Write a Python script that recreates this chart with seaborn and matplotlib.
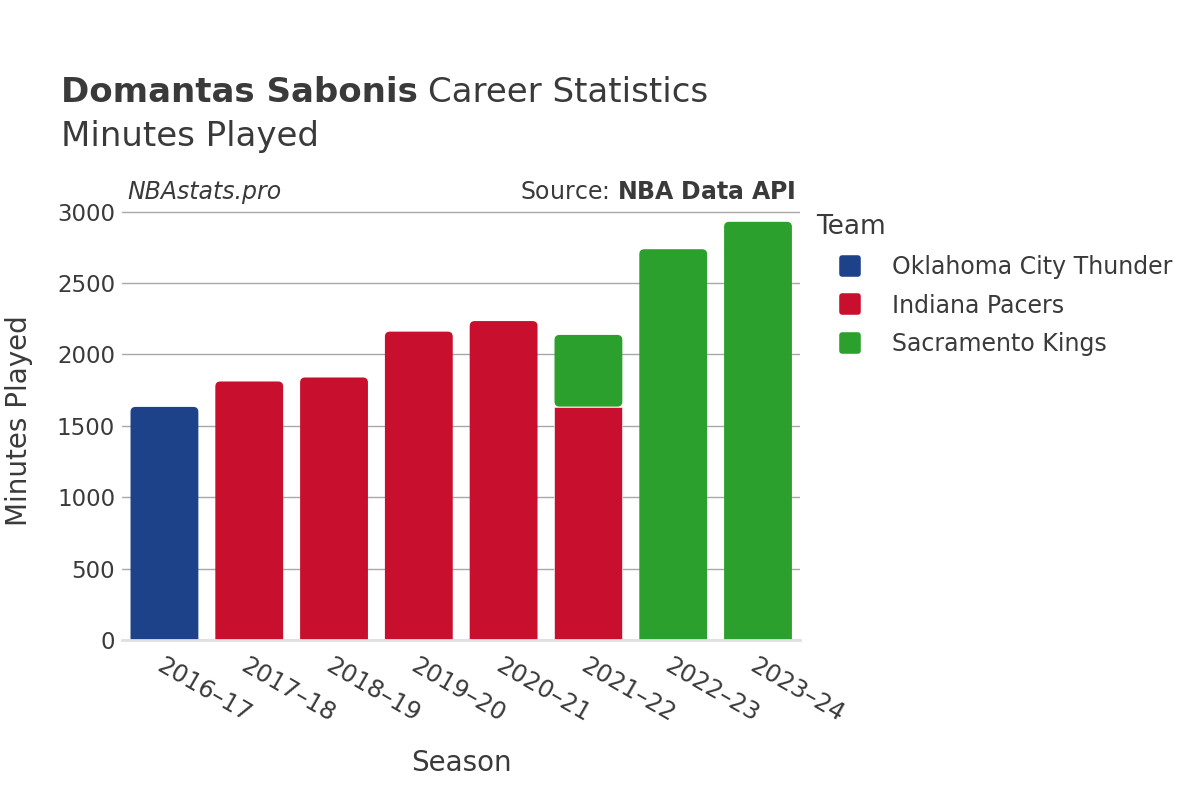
import pandas as pd
import matplotlib.pyplot as plt
import seaborn as sns
from matplotlib.patches import FancyBboxPatch
from matplotlib.lines import Line2D
from matplotlib.markers import MarkerStyle

# Data
seasons = ['2016–17', '2017–18', '2018–19', '2019–20', '2020–21',
           '2021–22', '2021–22', '2022–23', '2023–24']
teams = ['Oklahoma City Thunder', 'Indiana Pacers', 'Indiana Pacers',
         'Indiana Pacers', 'Indiana Pacers', 'Indiana Pacers',
         'Sacramento Kings', 'Sacramento Kings', 'Sacramento Kings']
minutes = [1632, 1810, 1838, 2159, 2233, 1634, 502, 2736, 2928]

team_order = ['Oklahoma City Thunder', 'Indiana Pacers', 'Sacramento Kings']
team_colors = {'Oklahoma City Thunder': '#1d428a',
               'Indiana Pacers': '#c8102e',
               'Sacramento Kings': '#2ca02c'}

df = pd.DataFrame({'Season': seasons, 'Team': teams, 'Minutes': minutes})

sns.set_style('white')
plt.rcParams['font.family'] = ['DejaVu Sans']
text_color = '#3a3a3a'

fig = plt.figure(figsize=(12, 8), dpi=100)
ax = fig.add_axes([0.1017, 0.2, 0.5653, 0.549])

# seaborn stacks the reversed hue order bottom-up, so Pacers sit under Kings
sns.histplot(data=df, x='Season', weights='Minutes', hue='Team',
             hue_order=team_order[::-1], palette=team_colors,
             multiple='stack', discrete=True, shrink=0.8, alpha=1,
             edgecolor='#f0f0f0', linewidth=0.5, legend=False, ax=ax)

ax.set_ylim(0, 3075)
ax.set_xlim(-0.5, 7.5)

# Rounded top corners on the top segment of each stack
totals = df.groupby('Season')['Minutes'].sum()
season_list = list(dict.fromkeys(seasons))
px_x = 678 / 8.0
px_y = 439 / 3075.0
radius = 5 / px_x
aspect = px_x / px_y
for p in list(ax.patches):
    h = p.get_height()
    if h <= 0:
        p.remove()
        continue
    x0, y0, w = p.get_x(), p.get_y(), p.get_width()
    idx = int(round(x0 + w / 2))
    is_top = abs((y0 + h) - totals[season_list[idx]]) < 1
    if is_top:
        extra = 0 if y0 > 0 else radius * aspect * 2
        new = FancyBboxPatch((x0 + radius, y0 - extra + radius * aspect),
                             w - 2 * radius, h + extra - 2 * radius * aspect,
                             boxstyle=f'round,pad={radius},rounding_size={radius}',
                             mutation_aspect=aspect,
                             facecolor=p.get_facecolor(), edgecolor='none')
        ax.add_patch(new)
        p.remove()

ax.set_yticks([0, 500, 1000, 1500, 2000, 2500, 3000])
ax.grid(axis='y', color='#a8a8a8', linewidth=1)
ax.set_axisbelow(True)
for s in ['top', 'right', 'left']:
    ax.spines[s].set_visible(False)
ax.spines['bottom'].set_color('#e0e0e0')
ax.spines['bottom'].set_linewidth(2)

ax.set_xticks(range(len(season_list)))
ax.set_xticklabels(season_list, rotation=-30, ha='left', va='top',
                   rotation_mode='anchor', fontsize=17.5, color=text_color)
ax.tick_params(axis='x', length=0, pad=10)
ax.tick_params(axis='y', length=0, pad=5, labelsize=16.5, labelcolor=text_color)

ax.set_xlabel('Season', fontsize=20, color=text_color, labelpad=16)
ax.set_ylabel('Minutes Played', fontsize=20, color=text_color, labelpad=17)

# Titles and annotations
fig.text(0.051, 0.872, 'Domantas Sabonis', fontsize=24.5, fontweight='bold',
         color=text_color, va='baseline')
fig.text(0.357, 0.872, 'Career Statistics', fontsize=24.5, color=text_color,
         va='baseline')
fig.text(0.051, 0.818, 'Minutes Played', fontsize=24.5, color=text_color,
         va='baseline')
fig.text(0.106, 0.751, 'NBAstats.pro', fontsize=17, style='italic',
         color=text_color, va='baseline')
fig.text(0.663, 0.751, 'Source: $\\bf{NBA\\ Data\\ API}$', fontsize=17,
         color=text_color, va='baseline', ha='right')

marker = MarkerStyle('s', joinstyle='round')
handles = [Line2D([0], [0], marker=marker, linestyle='none', markersize=12,
                  markeredgewidth=4, markerfacecolor=team_colors[t],
                  markeredgecolor=team_colors[t])
           for t in team_order]
leg = fig.legend(handles, team_order, title='Team', loc='upper left',
                 bbox_to_anchor=(0.680, 0.732), frameon=False, fontsize=17,
                 title_fontsize=19, labelspacing=0.62, handlelength=2.9,
                 handletextpad=0.3, borderaxespad=0, borderpad=0)
leg._legend_box.align = 'left'
leg.get_title().set_color(text_color)
for t in leg.get_texts():
    t.set_color(text_color)

fig.savefig('out.png', dpi=100)
